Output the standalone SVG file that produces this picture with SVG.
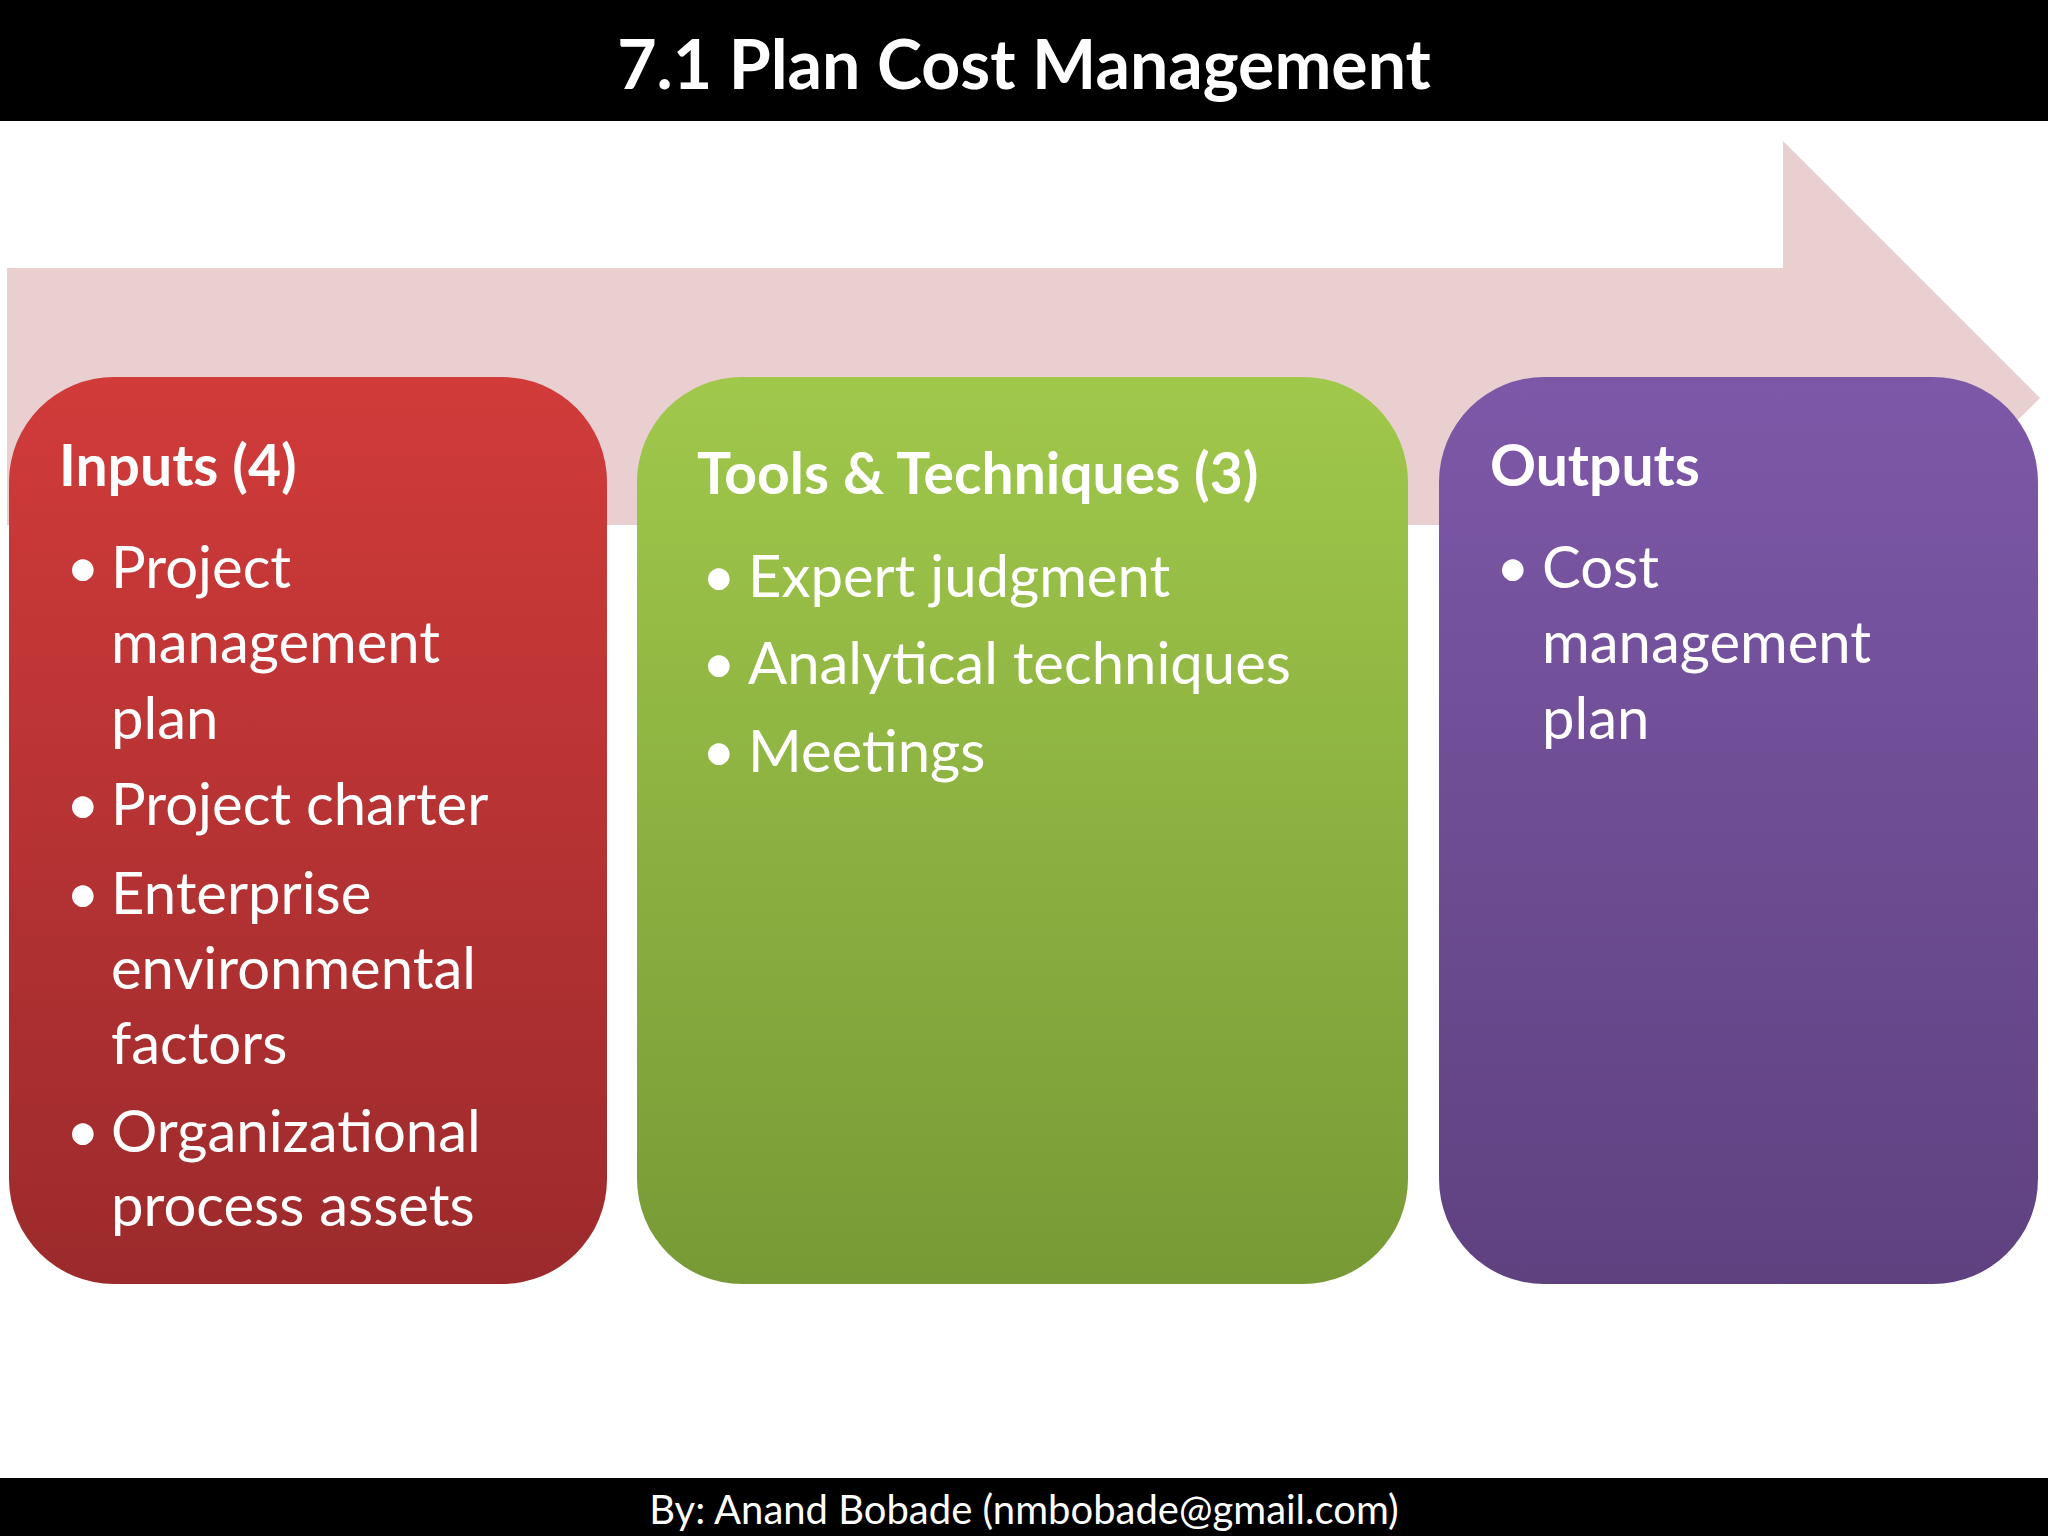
<svg xmlns="http://www.w3.org/2000/svg" width="2048" height="1536" viewBox="0 0 2048 1536">
<defs>
<linearGradient id="gr" x1="0" y1="0" x2="0" y2="1"><stop offset="0" stop-color="#d13b3a"/><stop offset="1" stop-color="#9c2a2c"/></linearGradient>
<linearGradient id="gg" x1="0" y1="0" x2="0" y2="1"><stop offset="0" stop-color="#a0c84b"/><stop offset="1" stop-color="#789a36"/></linearGradient>
<linearGradient id="gp" x1="0" y1="0" x2="0" y2="1"><stop offset="0" stop-color="#7d58a8"/><stop offset="1" stop-color="#5f4180"/></linearGradient>
<style>
.h{font-family:Lato,"Open Sans",sans-serif;font-weight:bold;font-size:57px;fill:#fff}
.b{font-family:Lato,"Open Sans",sans-serif;font-size:58px;fill:#fff}
</style>
</defs>
<rect width="2048" height="1536" fill="#fff"/>
<rect x="0" y="0" width="2048" height="121" fill="#000"/>
<text x="1024" y="89" text-anchor="middle" font-family="Lato,'Open Sans',sans-serif" font-weight="bold" font-size="68" fill="#fff">7.1 Plan Cost Management</text>
<rect x="0" y="1478" width="2048" height="58" fill="#000"/>
<text x="1024" y="1524" text-anchor="middle" font-family="Lato,'Open Sans',sans-serif" font-size="40" fill="#fff">By: Anand Bobade (nmbobade@gmail.com)</text>
<g id="arrow"><polygon points="7,268 1783,268 1783,141 2040,398 1783,653 1783,525 7,525" fill="#e9cfd0"/></g>
<g id="inputs">
<rect x="9" y="377" width="598" height="907" rx="105" fill="url(#gr)"/>
<text class="h" x="59" y="486">Inputs (4)</text>
<g class="b">
<text x="66" y="588">•</text><text x="111" y="588">Project</text>
<text x="111" y="663">management</text>
<text x="111" y="739">plan</text>
<text x="66" y="825">•</text><text x="111" y="825">Project charter</text>
<text x="66" y="914">•</text><text x="111" y="914">Enterprise</text>
<text x="111" y="989">environmental</text>
<text x="111" y="1064">factors</text>
<text x="66" y="1152">•</text><text x="111" y="1152">Organizational</text>
<text x="111" y="1226">process assets</text>
</g></g>
<g id="tools">
<rect x="637" y="377" width="771" height="907" rx="105" fill="url(#gg)"/>
<text class="h" x="697" y="494">Tools &amp; Techniques (3)</text>
<g class="b">
<text x="702" y="597">•</text><text x="748" y="597">Expert judgment</text>
<text x="702" y="684">•</text><text x="748" y="684">Analytical techniques</text>
<text x="702" y="772">•</text><text x="748" y="772">Meetings</text>
</g></g>
<g id="outputs">
<rect x="1439" y="377" width="599" height="907" rx="105" fill="url(#gp)"/>
<text class="h" x="1490" y="486">Outputs</text>
<g class="b">
<text x="1496" y="588">•</text><text x="1542" y="588">Cost</text>
<text x="1542" y="663">management</text>
<text x="1542" y="739">plan</text>
</g></g>
<g id="connectors"/>
</svg>
